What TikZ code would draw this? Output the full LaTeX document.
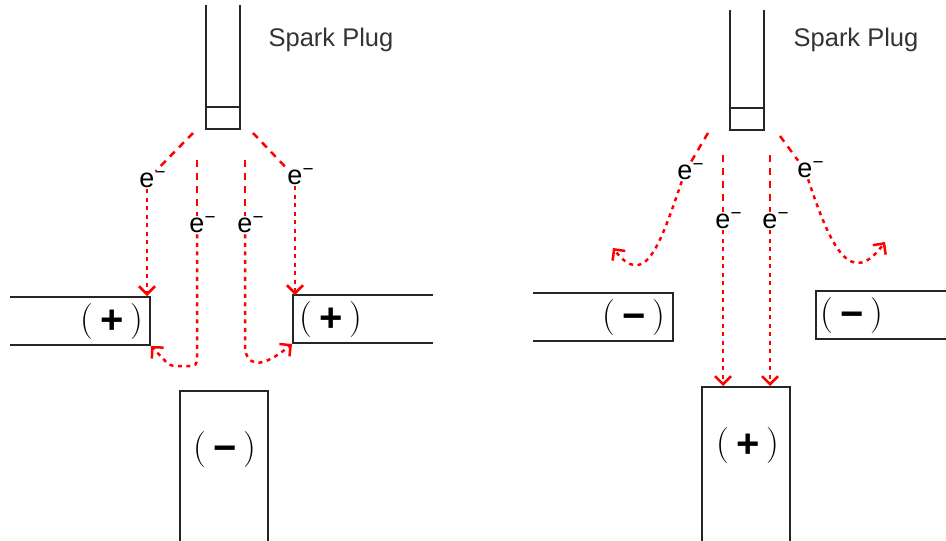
\documentclass[tikz,border=0pt]{standalone}
\usepackage{amsmath,amssymb}
\usepackage{fontspec}
\newfontfamily\labelfont{Liberation Sans}
\usepackage{xcolor}
\usepackage{tikz}
\usetikzlibrary{arrows.meta}

\newcommand{\plusmark}{(\hspace{7pt}\raisebox{-3pt}{\labelfont\bfseries\fontsize{40}{40}\selectfont +}\hspace{7pt})}
\newcommand{\minusmark}{(\hspace{7pt}\raisebox{-3pt}{\labelfont\bfseries\fontsize{40}{40}\selectfont \char"2212}\hspace{7pt})}

\begin{document}
\begin{tikzpicture}[x=1pt, y=-1pt,
  wire/.style={line width=1.3pt, black!85},
  flow/.style={red, line width=2.5pt, dash pattern=on 4pt off 4.5pt},
  flowtop/.style={red, line width=2.5pt, dash pattern=on 7pt off 6pt},
  tip/.style={-{Straight Barb[length=8pt, width=16pt]}},
  elab/.style={font=\labelfont\fontsize{27}{27}\selectfont, fill=white, inner sep=1pt},
  sign/.style={font=\fontsize{36}{36}\selectfont, inner sep=0pt},
  plugname/.style={font=\labelfont\fontsize{25.5}{25.5}\selectfont, text=black!80}
]
\useasboundingbox (0,0) rectangle (946,541);
\draw[wire] (206,5) -- (206,129) -- (240,129) -- (240,5) (206,107) -- (240,107);
\draw[wire] (10,297) -- (150,297) -- (150,345) -- (10,345);
\draw[wire] (433,295) -- (293,295) -- (293,343) -- (433,343);
\draw[wire] (180,541) -- (180,391) -- (268,391) -- (268,541);
\draw[wire] (730,10) -- (730,130) -- (764,130) -- (764,10) (730,108) -- (764,108);
\draw[wire] (533,293) -- (673,293) -- (673,341) -- (533,341);
\draw[wire] (946,291) -- (816,291) -- (816,339) -- (946,339);
\draw[wire] (702,541) -- (702,387) -- (790,387) -- (790,541);
\node[plugname] (spL) at (331,40) {Spark Plug};
\node[plugname] (spR) at (856,40) {Spark Plug};
\node[sign] (pos1) at (112,322) {\plusmark};
\node[sign] (pos2) at (331,320) {\plusmark};
\node[sign] (neg1) at (225,450) {\minusmark};
\node[sign] (neg2) at (634,318) {\minusmark};
\node[sign] (neg3) at (852,316) {\minusmark};
\node[sign] (pos3) at (748,446) {\plusmark};
\foreach \n/\x/\y in {e1/147/180, e2/197/225, e3/245/225, e4/295/177, e5/685/172, e6/723/221, e7/770/221, e8/805/170}
  \node[elab] (\n) at (\x,\y) {e\rlap{\textsuperscript{\char"2212}}};
\coordinate (pl1) at (193,133); \coordinate (pl2) at (197,160);
\coordinate (pl3) at (245,160); \coordinate (pl4) at (253,133);
\coordinate (tL) at (147,296); \coordinate (cL) at (151,346);
\coordinate (cR) at (292,344); \coordinate (tR) at (295,295);
\draw[flowtop] (pl1) -- (e1); \draw[flow, tip] (e1) -- (tL);
\draw[flowtop] (pl2) -- (e2); \draw[flow, tip, rounded corners=5pt] (e2) -- (197,366) -- (170,366) -- (cL);
\draw[flowtop] (pl3) -- (e3); \draw[flow, tip] (e3) -- (245,350) .. controls (250,372) and (270,362) .. (cR);
\draw[flowtop] (pl4) -- (e4); \draw[flow, tip] (e4) -- (tR);
\coordinate (pr1) at (708,133); \coordinate (pr2) at (723,155);
\coordinate (pr3) at (770,155); \coordinate (pr4) at (780,136);
\coordinate (aL) at (613,248); \coordinate (bL) at (723,386);
\coordinate (bR) at (770,386); \coordinate (aR) at (885,242);
\draw[flowtop] (pr1) -- (e5); \draw[flow, tip] (e5) .. controls (660,245) and (645,290) .. (aL);
\draw[flowtop] (pr2) -- (e6); \draw[flow, tip] (e6) -- (bL);
\draw[flowtop] (pr3) -- (e7); \draw[flow, tip] (e7) -- (bR);
\draw[flowtop] (pr4) -- (e8); \draw[flow, tip] (e8) .. controls (830,245) and (850,290) .. (aR);
\end{tikzpicture}
\end{document}
